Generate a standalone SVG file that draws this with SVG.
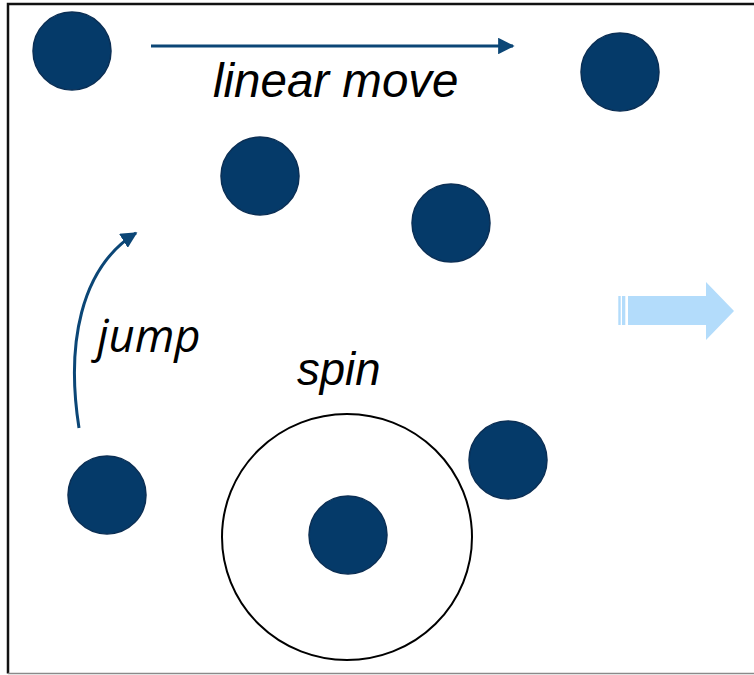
<svg xmlns="http://www.w3.org/2000/svg" width="754" height="675" viewBox="0 0 754 675">
<style>
.ball{fill:#053a69;stroke:#0b2f55;stroke-width:1.5}
.conn{fill:none;stroke:#0b4676;stroke-width:3}
.lbl{font-family:"Liberation Sans",Arial,sans-serif;font-style:italic;fill:#000}
</style>
<defs>
<marker id="ah" viewBox="0 0 10 10" refX="9" refY="5" markerWidth="5.5" markerHeight="5.5" markerUnits="strokeWidth" orient="auto">
<path d="M0,0 L10,5 L0,10 Z" fill="#0b4676"/>
</marker>
</defs>
<rect x="0" y="0" width="754" height="675" fill="#fff"/>
<g id="frame" fill="none">
<path d="M8,673.5 L8,4 L760,4" stroke="#111" stroke-width="2.5"/>
<path d="M8,673.5 L760,673.5" stroke="#8a8a8a" stroke-width="1.5"/>
</g>
<g id="ball1"><circle class="ball" cx="72" cy="51" r="39"/></g>
<g id="ball2"><circle class="ball" cx="620" cy="72" r="39"/></g>
<g id="ball3"><circle class="ball" cx="260" cy="176" r="39"/></g>
<g id="ball4"><circle class="ball" cx="451" cy="223" r="39"/></g>
<g id="ball5"><circle class="ball" cx="107" cy="495" r="39"/></g>
<g id="ball6"><circle class="ball" cx="508" cy="460" r="39"/></g>
<g id="spin-orbit"><ellipse cx="347" cy="537" rx="125" ry="123" fill="none" stroke="#000" stroke-width="2"/></g>
<g id="ball7"><circle class="ball" cx="348" cy="535" r="39"/></g>
<g id="connectors">
<path class="conn" d="M151,46 L513,46" marker-end="url(#ah)"/>
<path class="conn" stroke-width="2.5" d="M79,428 C66,345 80,268 136,233" marker-end="url(#ah)"/>
</g>
<g id="labels">
<text class="lbl" x="213" y="97" font-size="47.5">linear move</text>
<text x="97" y="352" font-size="45.5" font-family="'Open Sans','Noto Sans',sans-serif" font-style="italic" fill="#000">jump</text>
<text class="lbl" x="297" y="385" font-size="45.5">spin</text>
</g>
<g id="next-arrow" fill="#b3dcfb">
<rect x="618.3" y="296" width="2.4" height="29"/>
<rect x="622" y="296" width="3.3" height="29"/>
<path d="M628,296 L706,296 L706,282 L734,311 L706,340 L706,325 L628,325 Z"/>
</g>
</svg>
